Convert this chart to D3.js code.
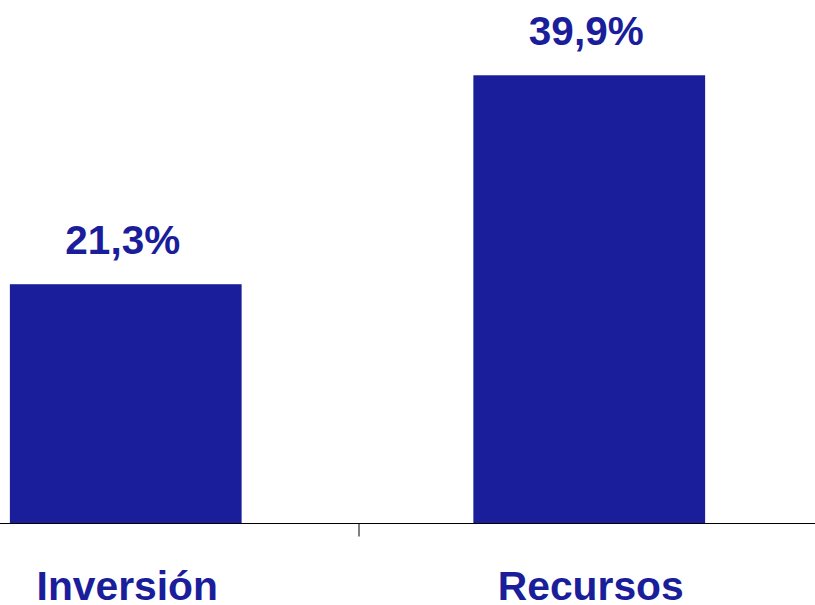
<!DOCTYPE html>
<html>
<head>
<meta charset="utf-8">
<script src="https://cdn.jsdelivr.net/npm/d3@7"></script>
<style>
html,body{margin:0;padding:0;background:#fff;}
svg{display:block;}
text{font-family:"Liberation Sans",Arial,sans-serif;font-weight:bold;}
</style>
</head>
<body>
<svg id="chart" width="815" height="605"></svg>
<script>
const categories = ["Inversión", "Recursos"];
const values = [21.3, 39.9];
const valueLabels = ["21,3%", "39,9%"];

const svg = d3.select("#chart");
const color = "#1a1e9b";
const baseY = 523.5;

const x = d3.scaleBand().domain(categories).range([-106, 821]).paddingInner(0.5).paddingOuter(0.25);
const y = d3.scaleLinear().domain([0, 46.6]).range([baseY, 0]);

svg.selectAll("rect.bar").data(values).enter().append("rect")
  .attr("class", "bar")
  .attr("x", (d, i) => x(categories[i]))
  .attr("width", x.bandwidth())
  .attr("y", d => y(d))
  .attr("height", d => baseY - y(d))
  .attr("fill", color);

svg.selectAll("text.val").data(values).enter().append("text")
  .attr("class", "val")
  .attr("x", (d, i) => x(categories[i]) + x.bandwidth() / 2 - 3)
  .attr("y", d => y(d) - 30)
  .attr("text-anchor", "middle")
  .attr("font-size", 40.5)
  .attr("fill", color)
  .text((d, i) => valueLabels[i]);

// axis line
svg.append("line")
  .attr("x1", 0).attr("x2", 815)
  .attr("y1", baseY).attr("y2", baseY)
  .attr("stroke", "#000").attr("stroke-width", 1);

// tick between categories
const mid = (x(categories[0]) + x.bandwidth() + x(categories[1])) / 2 + 1.5;
svg.append("line")
  .attr("x1", mid).attr("x2", mid)
  .attr("y1", baseY).attr("y2", baseY + 13)
  .attr("stroke", "#000").attr("stroke-width", 1);

svg.selectAll("text.cat").data(categories).enter().append("text")
  .attr("class", "cat")
  .attr("x", d => x(d) + x.bandwidth() / 2 + 1.5)
  .attr("y", 599.5)
  .attr("text-anchor", "middle")
  .attr("font-size", 40.8)
  .attr("fill", color)
  .text(d => d);
</script>
</body>
</html>
